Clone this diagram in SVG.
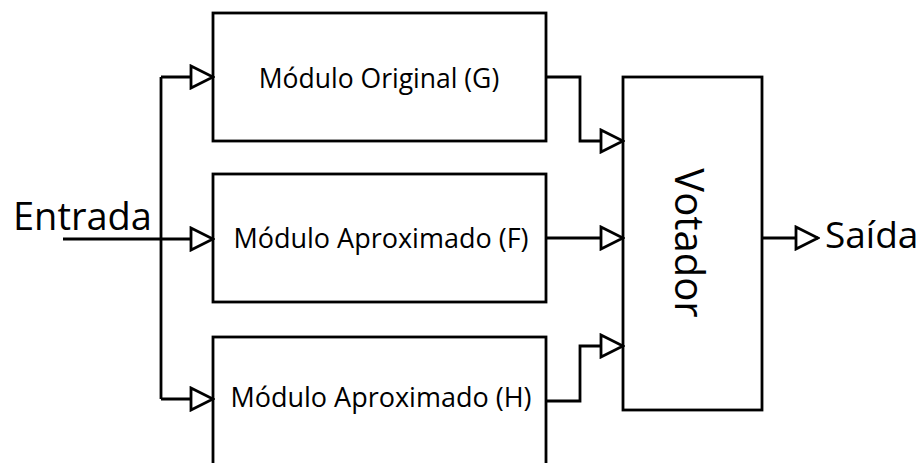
<svg xmlns="http://www.w3.org/2000/svg" width="922" height="463" viewBox="0 0 922 463">
<style>
.box{fill:#fff;stroke:#000;stroke-width:2.8}
.ln{fill:none;stroke:#000;stroke-width:2.8}
.t{font-family:"Open Sans","Noto Sans",sans-serif;fill:#000}
</style>
<defs>
<marker id="tri" markerUnits="userSpaceOnUse" markerWidth="26" markerHeight="26" viewBox="-2 -2 26 26" refX="22" refY="11" orient="auto">
<path d="M0,0 L22,11 L0,22 Z" fill="#fff" stroke="#000" stroke-width="2.8"/>
</marker>
</defs>
<rect width="922" height="463" fill="#fff"/>
<g id="g">
<rect class="box" x="213" y="13" width="333" height="128"/>
<text class="t" x="379" y="88" font-size="26.5" text-anchor="middle">Módulo Original (G)</text>
</g>
<g id="f">
<rect class="box" x="213" y="174" width="333" height="128"/>
<text class="t" x="381" y="248" font-size="27" text-anchor="middle">Módulo Aproximado (F)</text>
</g>
<g id="h">
<rect class="box" x="213" y="337" width="333" height="140"/>
<text class="t" x="381" y="407" font-size="27" text-anchor="middle">Módulo Aproximado (H)</text>
</g>
<g id="votador">
<rect class="box" x="623" y="77" width="139" height="333"/>
<text class="t" transform="translate(675,243) rotate(90)" font-size="40" text-anchor="middle">Votador</text>
</g>
<g id="entrada">
<text class="t" x="13" y="230" font-size="38">Entrada</text>
</g>
<g id="saida">
<text class="t" x="825" y="248" font-size="37">Saída</text>
</g>
<g id="connectors">
<path class="ln" d="M161,77 V399"/>
<path class="ln" d="M161,77 H213" marker-end="url(#tri)"/>
<path class="ln" d="M63,239 H213" marker-end="url(#tri)"/>
<path class="ln" d="M161,399 H213" marker-end="url(#tri)"/>
<path class="ln" d="M546,77 H580 V141 H623" marker-end="url(#tri)"/>
<path class="ln" d="M546,238 H623" marker-end="url(#tri)"/>
<path class="ln" d="M546,401 H580 V346 H623" marker-end="url(#tri)"/>
<path class="ln" d="M762,238 H818" marker-end="url(#tri)"/>
</g>
</svg>
